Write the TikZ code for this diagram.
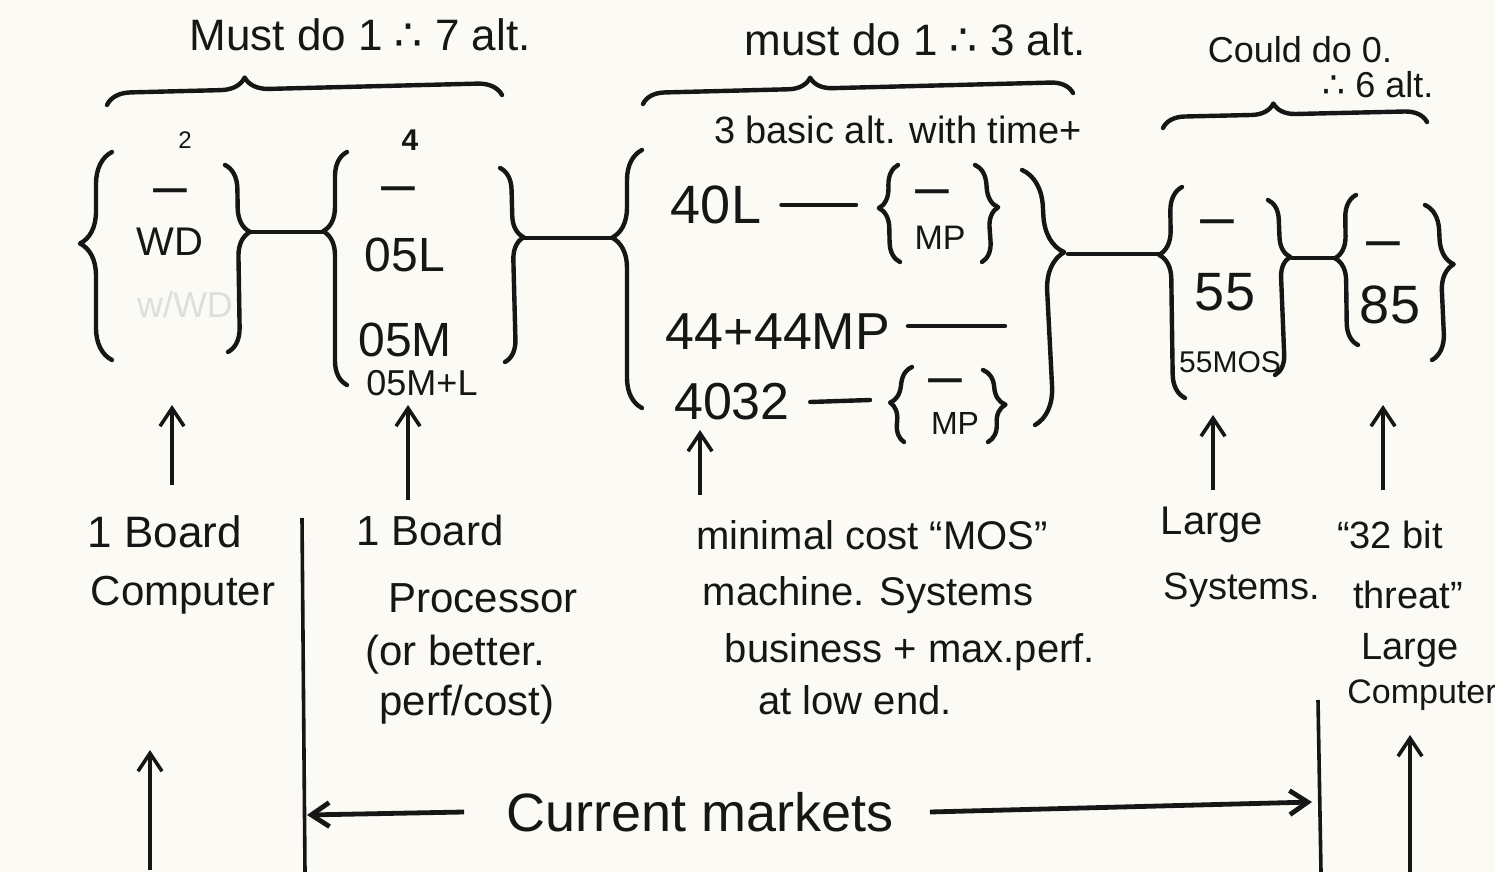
\documentclass[tikz,border=0pt]{standalone}
\usepackage{fontspec}
\usepackage{graphicx}
\setmainfont{Liberation Sans}
\newfontfamily\symf{DejaVu Sans}
\usetikzlibrary{decorations.pathreplacing,arrows.meta}
\definecolor{paper}{RGB}{251,250,245}
\definecolor{ink}{RGB}{22,22,22}
\definecolor{faint}{RGB}{222,222,220}
\newcommand{\thf}{{\symf ∴}}
\newcommand{\nonebar}{\scalebox{1.7}[1]{\textbf{–}}}
\tikzset{
  inkline/.style={draw=ink,line width=2.2pt,line cap=round,line join=round},
  brc/.style 2 args={inkline,decorate,decoration={brace,amplitude=#1,aspect=#2}},
  txt/.style={text=ink,inner sep=1pt,font=\fontsize{#1}{#1}\selectfont},
  dashtxt/.style={txt=20,anchor=base,inner sep=0pt},
  uparrow/.style={draw=ink,line width=1.8pt,-{Straight Barb[length=9pt,width=12pt]}},
  sideline/.style={draw=ink,line width=1.8pt}
}
\begin{document}
\begin{tikzpicture}[x=0.5pt,y=-0.5pt]
\fill[paper] (0,0) rectangle (1495,872);
\useasboundingbox (0,0) rectangle (1495,872);

% ---------- top braces and headings ----------
\node[txt=22] (h1) at (360,35) {Must do 1 \thf\ 7 alt.};
\node[txt=22] (h2) at (915,40) {must do 1 \thf\ 3 alt.};
\node[txt=18] (h3a) at (1300,50) {Could do 0.};
\node[txt=18] (h3b) at (1378,85) {\thf\ 6 alt.};
\draw[brc={12pt}{0.35}] (107,105) -- (502,95);
\draw[brc={11pt}{0.39}] (643,104) -- (1073,93);
\draw[brc={11pt}{0.42}] (1163,128) -- (1427,122);
\node[txt=19] (basic) at (898,130) {3 basic alt. with time+};

% ---------- group 1 ----------
\draw[brc={16pt}{0.56}] (112,360) -- (112,152);
\draw[brc={12pt}{0.36}] (225,165) -- (228,352);
\node[txt=12] (g1n) at (185,140) {2};
\node[dashtxt] (g1d) at (170,201) {\nonebar};
\node[txt=20] (wd) at (170,242) {WD};
\node[txt=18,text=faint] (wwd) at (185,305) {w/WD};
\coordinate (g1R) at (250,232);
\coordinate (g2L) at (323,232);
\draw[inkline] (g1R) -- (g2L);

% ---------- group 2 ----------
\draw[brc={12pt}{0.66}] (347,385) -- (347,152);
\draw[brc={11pt}{0.36}] (500,168) -- (505,362);
\node[txt=15] (g2n) at (410,140) {\textbf{4}};
\node[dashtxt] (g2d) at (398,199) {\nonebar};
\node[txt=24] (o5l) at (405,255) {05L};
\node[txt=24] (o5m) at (405,340) {05M};
\node[txt=18] (o5ml) at (422,383) {05M+L};
\coordinate (g2R) at (524,238);
\coordinate (g3L) at (612,238);
\draw[inkline] (g2R) -- (g3L);

% ---------- group 3 ----------
\draw[brc={15pt}{0.66}] (642,408) -- (642,150);
\draw[brc={19pt}{0.33}] (1022,170) -- (1035,425);
\node[txt=27] (n40l) at (716,205) {40L};
\node[txt=26] (n44) at (778,332) {44+44MP};
\node[txt=26] (n4032) at (732,402) {4032};
% small brace 1
\draw[brc={10pt}{0.56}] (900,262) -- (898,165);
\draw[brc={10pt}{0.45}] (975,165) -- (982,262);
\node[dashtxt] (sb1d) at (932,203) {\nonebar};
\node[txt=17] (mp1) at (940,238) {MP};
\coordinate (sb1L) at (856,205);
\draw[inkline] ([xshift=9pt]n40l.east) -- (sb1L);
% 44+44MP line
\coordinate (l44s) at (908,326);
\coordinate (l44e) at (1005,326);
\draw[inkline] (l44s) -- (l44e);
% small brace 2
\draw[brc={9pt}{0.5}] (904,442) -- (912,367);
\draw[brc={10pt}{0.5}] (983,370) -- (988,442);
\node[dashtxt] (sb2d) at (945,391) {\nonebar};
\node[txt=16] (mp2) at (955,423) {MP};
\coordinate (sb2L) at (870,400);
\draw[inkline] ([xshift=9pt]n4032.east) -- (sb2L);
\coordinate (g3R) at (1068,254);
\coordinate (g4L) at (1160,254);
\draw[inkline] (g3R) -- (g4L);

% ---------- group 4 ----------
\draw[brc={12pt}{0.68}] (1185,398) -- (1182,187);
\draw[brc={10pt}{0.33}] (1268,200) -- (1275,375);
\node[dashtxt] (g4d) at (1217,233) {\nonebar};
\node[txt=27] (n55) at (1225,292) {55};
\node[txt=15] (n55mos) at (1230,362) {55MOS};
\coordinate (g4R) at (1292,258);
\coordinate (g5L) at (1335,258);
\draw[inkline] (g4R) -- (g5L);

% ---------- group 5 ----------
\draw[brc={11pt}{0.58}] (1358,345) -- (1356,195);
\draw[brc={13pt}{0.39}] (1425,205) -- (1432,360);
\node[dashtxt] (g5d) at (1383,254) {\nonebar};
\node[txt=27] (n85) at (1390,305) {85};

% ---------- lower labels ----------
\node[txt=22] (bc1) at (165,532) {1 Board};
\node[txt=21] (bc2) at (183,595) {Computer};

\node[txt=21] (bp1) at (430,530) {1 Board};
\node[txt=21] (bp2) at (483,598) {Processor};
\node[txt=21] (bp3) at (455,655) {(or better.};
\node[txt=21] (bp4) at (467,705) {perf/cost)};

\node[txt=20] (mc1) at (872,535) {minimal cost “MOS”};
\node[txt=20] (mc2) at (868,595) {machine. Systems};
\node[txt=20] (mc3) at (910,652) {business + max.perf.};
\node[txt=20] (mc4) at (855,700) {at low end.};

\node[txt=20] (ls1) at (1212,525) {Large};
\node[txt=19] (ls2) at (1242,590) {Systems.};

\node[txt=19] (lc1) at (1390,535) {“32 bit};
\node[txt=19] (lc2) at (1408,595) {threat”};
\node[txt=19] (lc3) at (1410,650) {Large};
\node[txt=17] (lc4) at (1422,695) {Computer};

% ---------- upward arrows ----------
\coordinate (a1s) at (172,485); \coordinate (a1e) at (172,405);
\coordinate (a2s) at (408,500); \coordinate (a2e) at (408,405);
\coordinate (a3s) at (700,495); \coordinate (a3e) at (700,430);
\coordinate (a4s) at (1213,490); \coordinate (a4e) at (1213,415);
\coordinate (a5s) at (1383,490); \coordinate (a5e) at (1383,405);
\draw[uparrow] (a1s) -- (a1e);
\draw[uparrow] (a2s) -- (a2e);
\draw[uparrow] (a3s) -- (a3e);
\draw[uparrow] (a4s) -- (a4e);
\draw[uparrow] (a5s) -- (a5e);

% ---------- bottom: market bounds ----------
\coordinate (vl1t) at (302,518); \coordinate (vl1b) at (305,872);
\coordinate (vl2t) at (1318,700); \coordinate (vl2b) at (1321,872);
\draw[sideline] (vl1t) -- (vl1b);
\draw[sideline] (vl2t) -- (vl2b);
\coordinate (b1s) at (150,870); \coordinate (b1e) at (150,750);
\coordinate (b2s) at (1410,872); \coordinate (b2e) at (1410,735);
\draw[uparrow] (b1s) -- (b1e);
\draw[uparrow] (b2s) -- (b2e);

\node[txt=27] (cm) at (700,812) {Current markets};
\coordinate (cmL) at (307,815);
\coordinate (cmR) at (1312,802);
\draw[uparrow,line width=2.4pt] ([xshift=-20pt]cm.west) -- (cmL);
\draw[uparrow,line width=2.4pt] ([xshift=17pt]cm.east) -- (cmR);
\end{tikzpicture}
\end{document}
